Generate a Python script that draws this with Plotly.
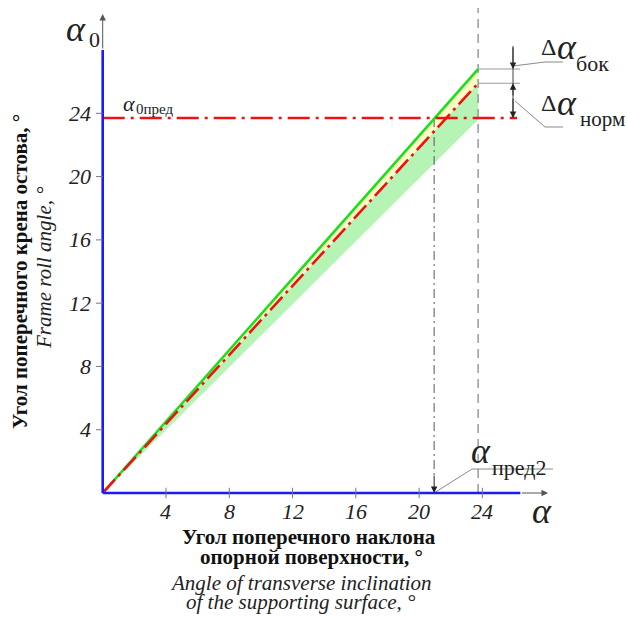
import plotly.graph_objects as go

# ---------------- data ----------------
x_ticks = [4, 8, 12, 16, 20, 24]
y_ticks = [4, 8, 12, 16, 20, 24]
x_tick_labels = ["4", "8", "12", "16", "20", "24"]
y_tick_labels = ["4", "8", "12", "16", "20", "24"]

alpha = [0, 23.73]            # support surface inclination, deg
alpha0_bok = [0, 26.8]        # upper boundary (green)
alpha0_norm = [0, 25.9]       # normal (red dash-dot)
alpha0_low = [0, 23.6]        # lower boundary of zone
alpha0_pred = 23.7            # limit frame roll angle
alpha_pred2 = 20.95           # limit inclination
x_axis_max = 26.4
y_axis_max = 28.0

# ---------------- geometry of the page ----------------
W, H = 627, 617
X0, Y0, S = 102.7, 493.0, 15.82   # pixel position of origin and px per degree
xr = [-X0 / S, (W - X0) / S]
yr = [-(H - Y0) / S, Y0 / S]

def px(x):   # pixel -> data x
    return (x - X0) / S

def py(y):   # pixel -> data y
    return (Y0 - y) / S

SERIF = "Liberation Serif"
fig = go.Figure()

def line(xs, ys, color, width, dash="solid"):
    fig.add_trace(go.Scatter(x=xs, y=ys, mode="lines",
                             line=dict(color=color, width=width, dash=dash),
                             hoverinfo="skip", showlegend=False))

# fills
fig.add_trace(go.Scatter(x=alpha, y=alpha0_low, mode="lines", line=dict(width=0),
                         hoverinfo="skip", showlegend=False))
fig.add_trace(go.Scatter(x=alpha, y=alpha0_norm, mode="lines", line=dict(width=0),
                         fill="tonexty", fillcolor="#b6f4b6", hoverinfo="skip", showlegend=False))
fig.add_trace(go.Scatter(x=alpha, y=alpha0_bok, mode="lines", line=dict(width=0),
                         fill="tonexty", fillcolor="#fbfbc4", hoverinfo="skip", showlegend=False))

# vertical gray dashed line at end of curves
line([alpha[-1], alpha[-1]], [0, py(8)], "#8a8a8a", 1.3, "9px,6px")
# vertical dash-dot line to alpha_pred2
line([alpha_pred2, alpha_pred2], [alpha0_pred, 0.9], "#555555", 1, "9px,4px,2px,4px")

# extension lines and dimension line
line([alpha[-1], px(520)], [alpha0_bok[-1]] * 2, "#9a9a9a", 1.2)
line([alpha[-1], px(520)], [alpha0_norm[-1]] * 2, "#9a9a9a", 1.2)
line([px(513), px(513)], [py(46), alpha0_pred], "#444444", 1)

# leader lines
line([px(513), px(545), px(563)], [py(66), py(62), py(62)], "#8a8a8a", 1)
line([px(515), px(545), px(563)], [py(101), py(127), py(127)], "#8a8a8a", 1)
line([alpha_pred2, px(472), px(553)], [0, py(469), py(469)], "#8a8a8a", 1)

# curves
line(alpha, alpha0_bok, "#19e019", 2.6)
line(alpha, alpha0_norm, "#ee1111", 2.6, "18px,5px,3px,5px")
line([0, px(517)], [alpha0_pred, alpha0_pred], "#ee1111", 2.6, "22px,6px,3px,6px")

# axes
line([0, x_axis_max], [0, 0], "#1a1aff", 2.6)
line([0, 0], [0, y_axis_max], "#1a1aff", 2.6)

# ticks
tx, ty = [], []
for t in x_ticks:
    tx += [t, t, None]
    ty += [-0.33, 0.33, None]
for t in y_ticks:
    tx += [-0.42, 0, None]
    ty += [t, t, None]
line(tx, ty, "#777777", 1)

ann = []
# tick labels
for t, lab in zip(x_ticks, x_tick_labels):
    ann.append(dict(x=t, y=py(511), text=lab, showarrow=False, xanchor="center", yanchor="middle",
                    font=dict(family=SERIF, size=22, color="#222", style="italic")))
for t, lab in zip(y_ticks, y_tick_labels):
    ann.append(dict(x=px(93), y=t, text=lab, showarrow=False, xanchor="right", yanchor="middle",
                    font=dict(family=SERIF, size=22, color="#222", style="italic")))

def arrow(x, y, ax, ay, color="#333", size=1.3):
    ann.append(dict(x=x, y=y, ax=ax, ay=ay, xref="x", yref="y", axref="x", ayref="y",
                    text="", showarrow=True, arrowhead=2, arrowsize=size, arrowwidth=1,
                    arrowcolor=color))

# axis arrows
arrow(px(548), 0, x_axis_max, 0, "#555")
arrow(0, py(14), 0, y_axis_max, "#555")
# arrow to alpha_pred2
arrow(alpha_pred2, 0, alpha_pred2, 1.2, "#222")
# dimension arrows
arrow(px(513), alpha0_bok[-1], px(513), py(46), "#222")
arrow(px(513), alpha0_norm[-1], px(513), py(97), "#222")
arrow(px(513), alpha0_pred, px(513), py(97), "#222")

def txt(xp, yp, s, size, xanchor="left", italic=True, color="#222", weight="normal", angle=0):
    ann.append(dict(x=xp / W, y=1 - yp / H, xref="paper", yref="paper", text=s, showarrow=False,
                    xanchor=xanchor, yanchor="middle", textangle=angle,
                    font=dict(family=SERIF, size=size, color=color,
                              style="italic" if italic else "normal", weight=weight)))

# symbol labels
txt(64, 29, "α", 36)
txt(87, 39, "0", 22, italic=False)
txt(530, 511, "α", 36)
txt(121, 103, "α", 22)
txt(134, 109, "0пред", 15, italic=False)
txt(469, 451, "α", 36)
txt(490, 467, "пред2", 22, italic=False)
txt(539, 47, "Δ", 24, italic=False)
txt(555, 47, "α", 36)
txt(574, 64, "бок", 22, italic=False)
txt(539, 103, "Δ", 24, italic=False)
txt(555, 103, "α", 36)
txt(578, 119, "норм", 21, italic=False)

# axis titles
txt(309, 537, "Угол поперечного наклона", 21, "center", italic=False, color="#111", weight="bold")
txt(311, 557, "опорной поверхности, °", 21, "center", italic=False, color="#111", weight="bold")
txt(301, 583, "Angle of transverse inclination", 21, "center", color="#222")
txt(301, 602, "of the supporting surface, °", 21, "center", color="#222")
txt(20, 272, "Угол поперечного крена остова, °", 21, "center", italic=False, color="#111",
    weight="bold", angle=-90)
txt(44, 268, "Frame roll angle, °", 21, "center", color="#222", angle=-90)

fig.update_layout(
    width=W, height=H, margin=dict(l=0, r=0, t=0, b=0),
    paper_bgcolor="white", plot_bgcolor="white", showlegend=False,
    xaxis=dict(range=xr, visible=False, fixedrange=True),
    yaxis=dict(range=yr, visible=False, fixedrange=True),
    annotations=ann,
)
fig.write_html("out.html", config={"displayModeBar": False},
               post_script="document.body.style.margin='0';document.body.style.overflow='hidden';")
